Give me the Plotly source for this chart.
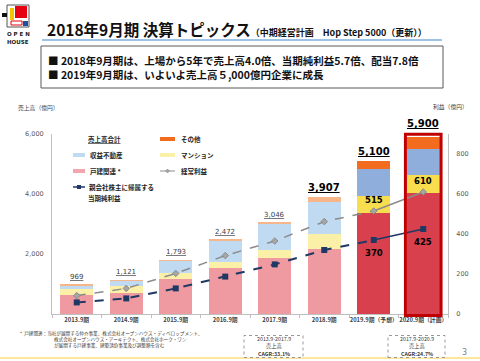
import plotly.graph_objects as go

# ---------------- data ----------------
categories = ["2013.9期", "2014.9期", "2015.9期", "2016.9期", "2017.9期",
              "2018.9期", "2019.9期（予想）", "2020.9期（計画）"]
kodate = [620, 690, 1160, 1540, 1880, 2180, 3380, 4020]     # 戸建関連
mansion = [230, 240, 220, 200, 250, 495, 570, 630]          # マンション
shueki = [95, 170, 390, 710, 880, 1070, 870, 840]           # 収益不動産
sonota = [24, 21, 23, 22, 36, 162, 280, 410]                # その他
totals = [969, 1121, 1793, 2472, 3046, 3907, 5100, 5900]    # 売上高合計
ordinary = [92, 128, 203, 292, 365, 462, 515, 610]          # 経常利益
net_income = [58, 78, 128, 187, 248, 320, 370, 425]         # 親会社株主に帰属する当期純利益
forecast = [False, False, False, False, False, False, True, True]
left_ticks = [2000, 4000, 6000]
right_ticks = [0, 200, 400, 600, 800]

W, H = 480, 361
JP = "Noto Sans CJK JP"
NUM = "DejaVu Sans"


def fx(p):
    return p / W


def fy(p):
    return 1 - p / H


def pick(flags, a, b):
    return [b if f else a for f in flags]


fig = go.Figure()

seg = [
    ("戸建関連", kodate, "#EF9AA0", "#D8404E"),
    ("マンション", mansion, "#FBF0A8", "#F8DD4E"),
    ("収益不動産", shueki, "#C0DAF2", "#8FAEDB"),
    ("その他", sonota, "#F7B68A", "#F26B1F"),
]
for name, vals, c_act, c_fc in seg:
    fig.add_trace(go.Bar(x=categories, y=vals, name=name,
                         marker=dict(color=pick(forecast, c_act, c_fc), line=dict(width=0)),
                         hoverinfo="skip"))

# lines (dashed for the history, solid for the last plan step)
n = len(categories)
fig.add_trace(go.Scatter(x=categories[:n - 1], y=ordinary[:n - 1], yaxis="y2", mode="lines",
                         line=dict(color="#8C8C8C", width=1.5, dash="dash")))
fig.add_trace(go.Scatter(x=categories[n - 2:], y=ordinary[n - 2:], yaxis="y2", mode="lines",
                         line=dict(color="#8C8C8C", width=1.5)))
fig.add_trace(go.Scatter(x=categories, y=ordinary, yaxis="y2", mode="markers",
                         marker=dict(symbol="diamond", size=5, color="#A6A6A6",
                                     line=dict(color="#7F7F7F", width=0.8))))
fig.add_trace(go.Scatter(x=categories[:n - 1], y=net_income[:n - 1], yaxis="y2", mode="lines",
                         line=dict(color="#1F3864", width=2, dash="dash")))
fig.add_trace(go.Scatter(x=categories[n - 2:], y=net_income[n - 2:], yaxis="y2", mode="lines",
                         line=dict(color="#1F3864", width=1.5)))
fig.add_trace(go.Scatter(x=categories, y=net_income, yaxis="y2", mode="markers",
                         marker=dict(symbol="square", size=6, color="#203864")))

ann = []
shapes = []


def ptext(x, y, text, font, anchor="left"):
    ann.append(dict(x=fx(x), y=fy(y), xref="paper", yref="paper", xanchor=anchor,
                    yanchor="middle", showarrow=False, text=text, font=font, borderpad=0))


# total labels
for i, (c, t) in enumerate(zip(categories, totals)):
    big = i >= 5
    txt = f"{t:,}"
    ann.append(dict(x=c, y=t, xref="x", yref="y", xanchor="center", yanchor="bottom",
                    yshift=(6 if i == n - 1 else 2),
                    text=f"<b><u>{txt}</u></b>" if big else f"<u>{txt}</u>",
                    showarrow=False,
                    font=dict(family=NUM, size=10 if big else 7,
                              color="#000000" if big else "#404040")))

# profit labels for the plan years
for i in range(n):
    if forecast[i]:
        ann.append(dict(x=categories[i], y=ordinary[i], xref="x", yref="y2", yshift=11,
                        xanchor="center", yanchor="middle",
                        text=f"<b>{ordinary[i]}</b>", showarrow=False,
                        font=dict(family=NUM, size=8.5, color="#000000")))
        ann.append(dict(x=categories[i], y=net_income[i], xref="x", yref="y2", yshift=-13,
                        xanchor="center", yanchor="middle",
                        text=f"<b>{net_income[i]}</b>", showarrow=False,
                        font=dict(family=NUM, size=8.5, color="#000000")))

# red outline around the plan bar
y_dom0, y_dom1 = 47 / H, 227 / H
last = n - 1
shapes.append(dict(type="rect", xref="x", yref="paper", x0=last - 0.36, x1=last + 0.36,
                   y0=y_dom0 - 1.5 / H, y1=y_dom0 + (totals[last] + 90) / 6000 * (y_dom1 - y_dom0),
                   line=dict(color="#C00000", width=3), fillcolor="rgba(0,0,0,0)"))

# ---------------- header ----------------
shapes += [
    dict(type="rect", xref="paper", yref="paper", x0=fx(7), x1=fx(29), y0=fy(27), y1=fy(5),
         line=dict(color="#555555", width=1), fillcolor="white"),
    dict(type="rect", xref="paper", yref="paper", x0=fx(15), x1=fx(27), y0=fy(18), y1=fy(6),
         line=dict(width=0), fillcolor="#E60012"),
    dict(type="rect", xref="paper", yref="paper", x0=fx(10), x1=fx(14), y0=fy(20), y1=fy(8),
         line=dict(width=0), fillcolor="#F5C400"),
    dict(type="rect", xref="paper", yref="paper", x0=fx(11), x1=fx(22), y0=fy(25), y1=fy(21),
         line=dict(color="#E60012", width=1), fillcolor="white"),
    dict(type="rect", xref="paper", yref="paper", x0=fx(23), x1=fx(28), y0=fy(26), y1=fy(21),
         line=dict(width=0), fillcolor="#1D50A2"),
    dict(type="rect", xref="paper", yref="paper", x0=fx(2), x1=fx(7), y0=fy(17), y1=fy(13),
         line=dict(width=0), fillcolor="#111111"),
]
LOGO = dict(family=NUM, size=5.5, color="#222222")
ptext(18, 33.5, "<b>O P E N</b>", LOGO, "center")
ptext(18, 41.5, "<b>HOUSE</b>", LOGO, "center")
ptext(46, 29, "<b>2018年9月期 決算トピックス</b><span style='font-size:9px'><b>（中期経営計画　Hop Step 5000（更新））</b></span>",
      dict(family=JP, size=15.5, color="#111111"))
BL = dict(family=JP, size=10.5, color="#111111")
ptext(47, 61, "<b>■ 2018年9月期は、上場から5年で売上高4.0倍、当期純利益5.7倍、配当7.8倍</b>", BL)
ptext(47, 74, "<b>■ 2019年9月期は、いよいよ売上高５,000億円企業に成長</b>", BL)
shapes += [
    dict(type="line", xref="paper", yref="paper", x0=fx(42), x1=fx(442), y0=fy(40), y1=fy(40),
         line=dict(color="#9DC3E6", width=2)),
    dict(type="rect", xref="paper", yref="paper", x0=fx(41), x1=fx(443), y0=fy(88), y1=fy(46),
         line=dict(color="#595959", width=1)),
]

# axis titles
AX = dict(family=JP, size=5.8, color="#404040")
ptext(17, 107, "売上高（億円）", AX)
ptext(432, 106, "利益（億円）", AX)

# ---------------- legend (drawn) ----------------
LG = dict(family=JP, size=6.5, color="#262626")


def swatch(x0, x1, y, color):
    shapes.append(dict(type="rect", xref="paper", yref="paper", x0=fx(x0), x1=fx(x1),
                       y0=fy(y + 2), y1=fy(y - 2), line=dict(width=0), fillcolor=color))


ptext(104, 139, "<b><u>売上高合計</u></b>", LG, "center")
swatch(160, 175, 139, "#F26B1F"); ptext(180, 139, "<b>その他</b>", LG)
swatch(73, 85, 155, "#C0DAF2"); ptext(89, 155, "<b>収益不動産</b>", LG)
swatch(160, 175, 155, "#FBF0A8"); ptext(180, 155, "<b>マンション</b>", LG)
swatch(73, 85, 171, "#F4A6AE"); ptext(89, 171, "<b>戸建関連 *</b>", LG)
shapes.append(dict(type="line", xref="paper", yref="paper", x0=fx(160), x1=fx(175),
                   y0=fy(171), y1=fy(171), line=dict(color="#8C8C8C", width=1)))
shapes.append(dict(type="path", xref="paper", yref="paper",
                   path=f"M {fx(167.5)},{fy(169)} L {fx(169.5)},{fy(171)} L {fx(167.5)},{fy(173)} L {fx(165.5)},{fy(171)} Z",
                   fillcolor="#A6A6A6", line=dict(color="#7F7F7F", width=0.5)))
ptext(180, 171, "<b>経常利益</b>", LG)
shapes.append(dict(type="line", xref="paper", yref="paper", x0=fx(73), x1=fx(85),
                   y0=fy(187), y1=fy(187), line=dict(color="#1F3864", width=1.5)))
shapes.append(dict(type="rect", xref="paper", yref="paper", x0=fx(77), x1=fx(81),
                   y0=fy(189), y1=fy(185), fillcolor="#203864", line=dict(width=0)))
ptext(88, 187, "<b>親会社株主に帰属する</b>", LG)
ptext(87, 197.5, "<b>当期純利益</b>", LG)

# ---------------- footnote, CAGR boxes, footer ----------------
FN = dict(family=JP, size=4.6, color="#404040")
ptext(19, 333, "*  戸建関連：当社が展開する仲介事業、株式会社オープンハウス・ディベロップメント、", FN)
ptext(53, 339, "株式会社オープンハウス・アーキテクト、株式会社ホーク・ワン", FN)
ptext(53, 345, "が展開する戸建事業、建築請負事業及び調整額を含む", FN)
shapes.append(dict(type="line", xref="paper", yref="paper", x0=0, x1=1, y0=fy(358), y1=fy(358),
                   line=dict(color="#FFE699", width=2)))
CG = dict(family=JP, size=5.3, color="#404040")
for (bx0, bx1, period, cagr) in [(244, 303, "2013.9-2017.9", "CAGR:33.1%"),
                                  (388, 445, "2017.9-2020.9", "CAGR:24.7%")]:
    shapes.append(dict(type="rect", xref="paper", yref="paper", x0=fx(bx0), x1=fx(bx1),
                       y0=fy(357.5), y1=fy(335.5), fillcolor="white",
                       line=dict(color="#7F7F7F", width=0.8, dash="dot")))
    cx = (bx0 + bx1) / 2
    ptext(cx, 339.3, period, CG, "center")
    ptext(cx, 346.3, "売上高", CG, "center")
    ptext(cx, 353.5, f"<b>{cagr}</b>", CG, "center")
ptext(464, 352.5, "3", dict(family=NUM, size=8, color="#7F7F7F"), "center")

fig.update_layout(
    width=W, height=H, margin=dict(l=0, r=0, t=0, b=0, autoexpand=False),
    paper_bgcolor="white", plot_bgcolor="rgba(0,0,0,0)",
    barmode="stack", bargap=0.33, showlegend=False,
    xaxis=dict(domain=[52 / W, 448 / W], type="category", showgrid=False, automargin=False,
               showline=True, linecolor="#BFBFBF", linewidth=1, tickangle=0,
               ticks="outside", tickson="boundaries", ticklen=3, tickcolor="#BFBFBF",
               tickfont=dict(family=JP, size=5.8, color="#404040"),
               tickprefix="<b>", ticksuffix="</b>"),
    yaxis=dict(domain=[y_dom0, y_dom1], range=[0, 6000], showgrid=False, zeroline=False,
               automargin=False,
               showline=True, linecolor="#BFBFBF", linewidth=1,
               tickvals=left_ticks, ticktext=[f"{v:,}" for v in left_ticks],
               ticks="", ticklabelstandoff=6,
               tickfont=dict(family=NUM, size=6.5, color="#595959")),
    yaxis2=dict(overlaying="y", side="right", range=[0, 900], showgrid=False, zeroline=False,
                automargin=False,
                showline=True, linecolor="#BFBFBF", linewidth=1,
                tickvals=right_ticks, ticktext=[str(v) for v in right_ticks],
                ticks="", ticklabelstandoff=6,
                tickfont=dict(family=NUM, size=6.5, color="#595959")),
    annotations=ann, shapes=shapes,
)

fig.write_html("out.html", config={"displayModeBar": False},
               post_script="document.body.style.margin='0px';")
